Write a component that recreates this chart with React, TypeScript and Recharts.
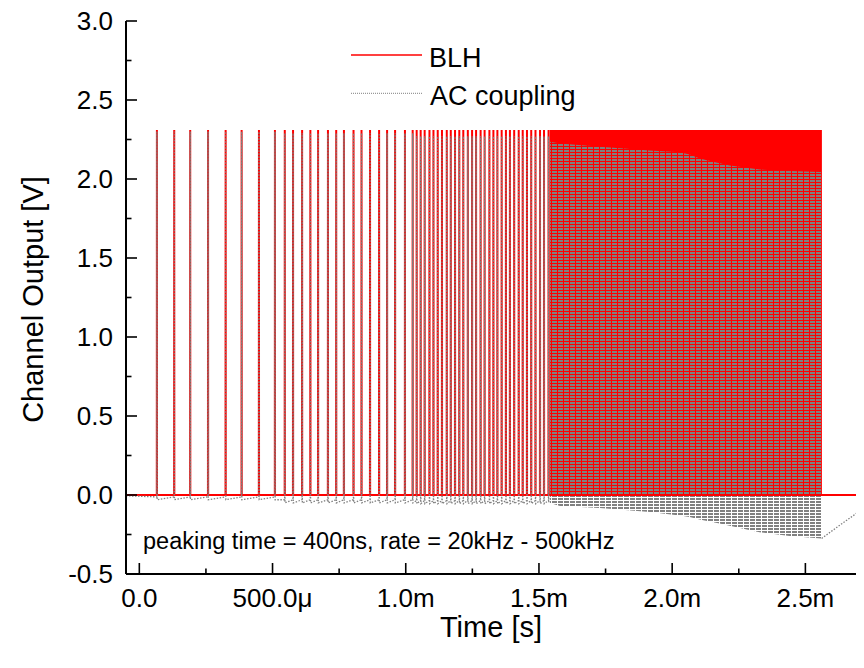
import React from 'react';
import { ComposedChart, Line, Area, XAxis, YAxis, Legend, Label } from 'recharts';

const FONT = '"Liberation Sans", Arial, Helvetica, sans-serif';

// ---- data (time in microseconds, voltage in V) ----
// individually resolvable pulses, grouped by rate step
const pulsesSeg1 = [66, 131, 191, 258, 324, 384, 449, 509];
const pulsesSeg2 = [546, 577, 611, 642, 671, 708, 739, 768, 804, 834, 866, 900, 930, 960, 997, 1026];
const pulsesSeg3 = [1041, 1056, 1071, 1089, 1104, 1120, 1136, 1154, 1169, 1185, 1201, 1216, 1233, 1249, 1264, 1281,
  1296, 1314, 1329, 1344, 1360, 1376, 1391, 1407, 1424, 1439, 1455, 1471, 1487, 1504, 1519, 1536];

const blhPeak = 2.31;
const blhBase = 0.0;
// AC coupling levels per rate step: peak, level just before a pulse, undershoot right after
const acPeak = [2.3, 2.29, 2.27];
const acRest = [-0.012, -0.03, -0.035];
const acFloor = [-0.03, -0.05, -0.055];

// dense part (pulses not resolvable): envelopes
const denseRedT = [1540, 2562];
const denseT = [1541, 1579, 1729, 1916, 2028, 2066, 2103, 2178, 2216, 2328, 2441, 2561];
const denseAcUpper = [2.235, 2.225, 2.204, 2.18, 2.17, 2.155, 2.13, 2.1, 2.085, 2.06, 2.05, 2.045];
const denseAcLower = [-0.05, -0.07, -0.082, -0.108, -0.13, -0.14, -0.155, -0.18, -0.195, -0.235, -0.26, -0.275];

// after the pulse train
const tailT = [2561, 2630, 2705];
const tailAc = [-0.275, -0.19, -0.1];
const tailBlh = [0.0, 0.0, 0.0];

// axes
const xDomain = [-50, 2705];
const yDomain = [-0.5, 3.0];
const xMajor = [0, 500, 1000, 1500, 2000, 2500];
const xLabels = ['0.0', '500.0\u03bc', '1.0m', '1.5m', '2.0m', '2.5m'];
const xAll = [0, 250, 500, 750, 1000, 1250, 1500, 1750, 2000, 2250, 2500];
const yMajor = [-0.5, 0, 0.5, 1, 1.5, 2, 2.5, 3];
const yAll = [-0.5, -0.25, 0, 0.25, 0.5, 0.75, 1, 1.25, 1.5, 1.75, 2, 2.25, 2.5, 2.75, 3];

// ---- build series tables ----
const segments = [pulsesSeg1, pulsesSeg2, pulsesSeg3];

const blhData: { t: number; v: number | null }[] = [{ t: xDomain[0], v: blhBase }];
segments.forEach((seg) => {
  seg.forEach((p) => {
    blhData.push({ t: p - 0.4, v: blhBase });
    blhData.push({ t: p, v: blhPeak });
    blhData.push({ t: p + 0.4, v: blhBase });
  });
});
tailT.forEach((t, i) => blhData.push({ t, v: tailBlh[i] }));

const acData: { t: number; v: number | null }[] = [{ t: xDomain[0], v: -0.005 }];
segments.forEach((seg, s) => {
  seg.forEach((p) => {
    acData.push({ t: p - 0.4, v: acRest[s] });
    acData.push({ t: p, v: acPeak[s] });
    acData.push({ t: p + 0.8, v: acFloor[s] });
  });
});
acData.push({ t: denseT[0], v: null });
tailT.forEach((t, i) => acData.push({ t, v: tailAc[i] }));

const denseRed = denseRedT.map((t) => ({ t, r: [blhBase, blhPeak] }));
const denseAc = denseT.map((t, i) => ({ t, r: [denseAcLower[i], denseAcUpper[i]] }));

// ---- ticks ----
const TICK_W = 1.6;
const BottomTick = (props: any) => {
  const { x, y, payload } = props;
  const i = xMajor.indexOf(payload.value);
  const major = i >= 0;
  return (
    <g>
      <line x1={x} y1={y} x2={x} y2={y - (major ? 11 : 5.5)} stroke="#000" strokeWidth={TICK_W} />
      {major && (
        <text x={x} y={y + 15} dy="0.71em" textAnchor="middle" fontSize={26} fontFamily={FONT} fill="#000">
          {xLabels[i]}
        </text>
      )}
    </g>
  );
};
const TopTick = (props: any) => {
  const { x, y, payload } = props;
  const major = xMajor.indexOf(payload.value) >= 0;
  return <line x1={x} y1={y} x2={x} y2={y + (major ? 11 : 5.5)} stroke="#000" strokeWidth={TICK_W} />;
};
const LeftTick = (props: any) => {
  const { x, y, payload } = props;
  const major = yMajor.indexOf(payload.value) >= 0;
  return (
    <g>
      <line x1={x} y1={y} x2={x + (major ? 11 : 5.5)} y2={y} stroke="#000" strokeWidth={TICK_W} />
      {major && (
        <text x={x - 13} y={y} dy="0.355em" textAnchor="end" fontSize={26} fontFamily={FONT} fill="#000">
          {Number(payload.value).toFixed(1)}
        </text>
      )}
    </g>
  );
};
const RightTick = (props: any) => {
  const { x, y, payload } = props;
  const major = yMajor.indexOf(payload.value) >= 0;
  return <line x1={x} y1={y} x2={x - (major ? 11 : 5.5)} y2={y} stroke="#000" strokeWidth={TICK_W} />;
};

const XTitle = (props: any) => {
  const vb = props.viewBox || {};
  return (
    <text x={vb.x + vb.width / 2 - 2} y={vb.y + 63} textAnchor="middle" fontSize={29} fontFamily={FONT} fill="#000">
      Time [s]
    </text>
  );
};
const YTitle = (props: any) => {
  const vb = props.viewBox || {};
  const cx = vb.x + 34.5;
  const cy = vb.y + vb.height / 2 + 2;
  return (
    <text x={cx} y={cy} transform={`rotate(-90 ${cx} ${cy})`} textAnchor="middle" fontSize={29} fontFamily={FONT} fill="#000">
      Channel Output [V]
    </text>
  );
};

const renderLegend = () => (
  <svg width={260} height={80} style={{ display: 'block', overflow: 'visible' }}>
    <line x1={3} y1={17} x2={74} y2={17} stroke="#ff0000" strokeWidth={1.5} />
    <text x={81} y={28.7} fontSize={27} fontFamily={FONT} fill="#000">BLH</text>
    <line x1={3} y1={55.3} x2={74} y2={55.3} stroke="#808080" strokeWidth={1} strokeDasharray="1 1" />
    <text x={82} y={67} fontSize={27} fontFamily={FONT} fill="#000">AC coupling</text>
  </svg>
);

export default function App() {
  return (
    <div style={{ position: 'relative', left: -8, top: -8, width: 864, height: 668 }}>
      <ComposedChart width={864} height={668} margin={{ top: 21, right: 4, bottom: 0, left: 8 }}>
        <defs>
          <pattern id="acPat" width="6" height="3" patternUnits="userSpaceOnUse">
            <rect x="0" y="0" width="5" height="2" fill="#808080" />
          </pattern>
        </defs>
        <XAxis
          xAxisId="b"
          dataKey="t"
          type="number"
          domain={xDomain}
          allowDataOverflow
          ticks={xAll}
          interval={0}
          height={94}
          tickSize={0}
          tickMargin={0}
          tickLine={false}
          tick={<BottomTick />}
          axisLine={{ stroke: '#000', strokeWidth: 2 }}
        >
          <Label content={<XTitle />} />
        </XAxis>
        <XAxis
          xAxisId="t"
          orientation="top"
          dataKey="t"
          type="number"
          domain={xDomain}
          allowDataOverflow
          ticks={xAll}
          interval={0}
          height={0}
          tickSize={0}
          tickMargin={0}
          tickLine={false}
          tick={<TopTick />}
          axisLine={{ stroke: '#000', strokeWidth: 2 }}
        />
        <YAxis
          yAxisId="l"
          type="number"
          domain={yDomain}
          allowDataOverflow
          ticks={yAll}
          interval={0}
          width={118}
          tickSize={0}
          tickMargin={0}
          tickLine={false}
          tick={<LeftTick />}
          axisLine={{ stroke: '#000', strokeWidth: 2 }}
        >
          <Label content={<YTitle />} />
        </YAxis>
        <YAxis
          yAxisId="r"
          orientation="right"
          type="number"
          domain={yDomain}
          allowDataOverflow
          ticks={yAll}
          interval={0}
          width={0}
          tickSize={0}
          tickMargin={0}
          tickLine={false}
          tick={<RightTick />}
          axisLine={{ stroke: '#000', strokeWidth: 2 }}
        />
        <Line
          xAxisId="b"
          yAxisId="l"
          data={blhData}
          dataKey="v"
          name="BLH"
          stroke="#ff0000"
          strokeWidth={2}
          dot={false}
          activeDot={false}
          isAnimationActive={false}
        />
        <Area
          xAxisId="b"
          yAxisId="l"
          data={denseRed}
          dataKey="r"
          stroke="none"
          fill="#ff0000"
          fillOpacity={1}
          legendType="none"
          isAnimationActive={false}
        />
        <Area
          xAxisId="b"
          yAxisId="l"
          data={denseAc}
          dataKey="r"
          stroke="none"
          fill="url(#acPat)"
          fillOpacity={1}
          legendType="none"
          isAnimationActive={false}
        />
        <Line
          xAxisId="b"
          yAxisId="l"
          data={acData}
          dataKey="v"
          name="AC coupling"
          stroke="#808080"
          strokeWidth={1.3}
          strokeDasharray="1.5 1.5"
          dot={false}
          activeDot={false}
          isAnimationActive={false}
        />
        <Legend
          layout="vertical"
          align="center"
          verticalAlign="middle"
          content={renderLegend}
          wrapperStyle={{ left: 348, top: 38, width: 260, height: 80 }}
        />
      </ComposedChart>
      <svg width={864} height={668} style={{ position: 'absolute', left: 0, top: 0, pointerEvents: 'none' }}>
        <text x={143} y={549} fontSize={23.5} fontFamily={FONT} fill="#000">
          peaking time = 400ns, rate = 20kHz - 500kHz
        </text>
      </svg>
    </div>
  );
}
